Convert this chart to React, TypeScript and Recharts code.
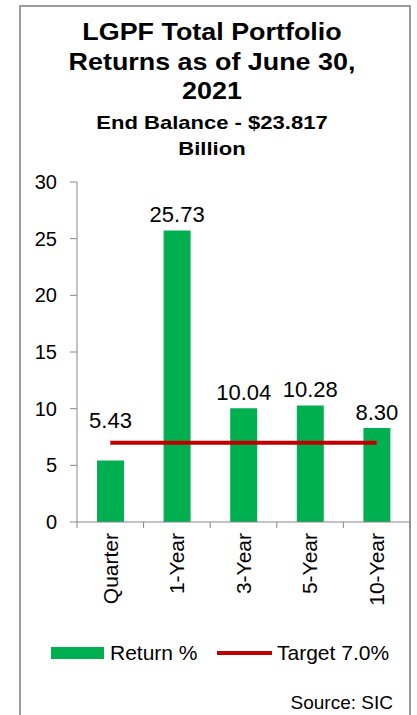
import React from 'react';
import { ComposedChart, Bar, Line, XAxis, YAxis, LabelList } from 'recharts';

const categories = ['Quarter', '1-Year', '3-Year', '5-Year', '10-Year'];
const returns = [5.43, 25.73, 10.04, 10.28, 8.3];
const target = 7.0;
const yTicks = [0, 5, 10, 15, 20, 25, 30];

const data = categories.map((name, i) => ({ name, ret: returns[i], target }));

const W = 417;
const H = 715;
const margin = { top: 182, right: 7, bottom: 93, left: 0 };
const yAxisWidth = 77;
const xAxisHeight = 100;
const plotBottom = H - margin.bottom - xAxisHeight;
const band = (W - margin.left - margin.right - yAxisWidth) / categories.length;

const GREEN = '#00B050';
const RED = '#C00000';
const AXIS = '#868686';
const FONT = "'Liberation Sans', Arial, sans-serif";

// value label above each bar; kept clear of the target line when the bar is below it
const BarValueLabel = (props: any) => {
  const { x, y, width, height, value } = props;
  const perUnit = height / value;
  const lineY = y + height - target * perUnit;
  let cy = y - 16;
  if (value < target) cy = lineY - 22;
  return (
    <text
      x={x + width / 2}
      y={cy}
      dy="0.35em"
      textAnchor="middle"
      fontSize={22}
      fill="#000"
      style={{ fontFamily: FONT }}
    >
      {Number(value).toFixed(2)}
    </text>
  );
};

// rotated category label plus Excel-style tick marks between categories
const CategoryTick = (props: any) => {
  const { x, payload, index } = props;
  const left = x - band / 2;
  const right = x + band / 2;
  return (
    <g>
      <line x1={left} x2={left} y1={plotBottom} y2={plotBottom + 6} stroke={AXIS} />
      {index === categories.length - 1 && (
        <line x1={right} x2={right} y1={plotBottom} y2={plotBottom + 6} stroke={AXIS} />
      )}
      <text
        transform={`translate(${x},${plotBottom + 11}) rotate(-90)`}
        textAnchor="end"
        dy="0.35em"
        fontSize={21}
        fill="#000"
        style={{ fontFamily: FONT }}
      >
        {payload.value}
      </text>
    </g>
  );
};

export default function App() {
  return (
    <div style={{ position: 'absolute', left: 0, top: 0, width: W, height: H, background: '#fff', overflow: 'hidden', fontFamily: FONT }}>
      <div
        style={{
          position: 'absolute',
          left: 19,
          top: 5,
          width: 392,
          height: 740,
          border: '2px solid #9a9a9a',
          boxSizing: 'border-box',
        }}
      />

      <div style={{ position: 'absolute', left: 0, top: 17, width: 424, textAlign: 'center', fontWeight: 'bold' }}>
        {['LGPF Total Portfolio', 'Returns as of June 30,', '2021'].map((t) => (
          <div key={t} style={{ fontSize: 24, lineHeight: '29.5px', transform: 'scaleX(1.12)' }}>{t}</div>
        ))}
        {['End Balance - $23.817', 'Billion'].map((t, i) => (
          <div
            key={t}
            style={{ fontSize: 19, lineHeight: '26px', transform: 'scaleX(1.16)', marginTop: i === 0 ? 4 : 0 }}
          >
            {t}
          </div>
        ))}
      </div>

      <div style={{ position: 'absolute', left: 0, top: 0 }}>
        <ComposedChart width={W} height={H} data={data} margin={margin} style={{ fontFamily: FONT }}>
          <YAxis
            width={yAxisWidth}
            domain={[0, 30]}
            ticks={yTicks}
            interval={0}
            tickSize={7}
            tickMargin={13}
            axisLine={{ stroke: AXIS }}
            tickLine={{ stroke: AXIS }}
            tick={{ fontSize: 20, fill: '#000', fontFamily: FONT }}
          />
          <XAxis
            dataKey="name"
            height={xAxisHeight}
            interval={0}
            axisLine={{ stroke: AXIS }}
            tickLine={false}
            tick={<CategoryTick />}
          />
          <Bar dataKey="ret" fill={GREEN} barSize={27} isAnimationActive={false}>
            <LabelList dataKey="ret" content={<BarValueLabel />} />
          </Bar>
          <Line type="linear" dataKey="target" stroke={RED} strokeWidth={4} dot={false} isAnimationActive={false} />
        </ComposedChart>
      </div>

      {/* legend */}
      <div style={{ position: 'absolute', left: 51, top: 647, width: 53, height: 12, background: GREEN }} />
      <div style={{ position: 'absolute', left: 110, top: 640, fontSize: 21, lineHeight: '26px' }}>Return %</div>
      <div style={{ position: 'absolute', left: 217, top: 651, width: 55, height: 4, background: RED }} />
      <div style={{ position: 'absolute', left: 277, top: 640, fontSize: 21, lineHeight: '26px' }}>Target 7.0%</div>

      <div style={{ position: 'absolute', right: W - 393, top: 691, fontSize: 19, lineHeight: '24px' }}>Source: SIC</div>
    </div>
  );
}
